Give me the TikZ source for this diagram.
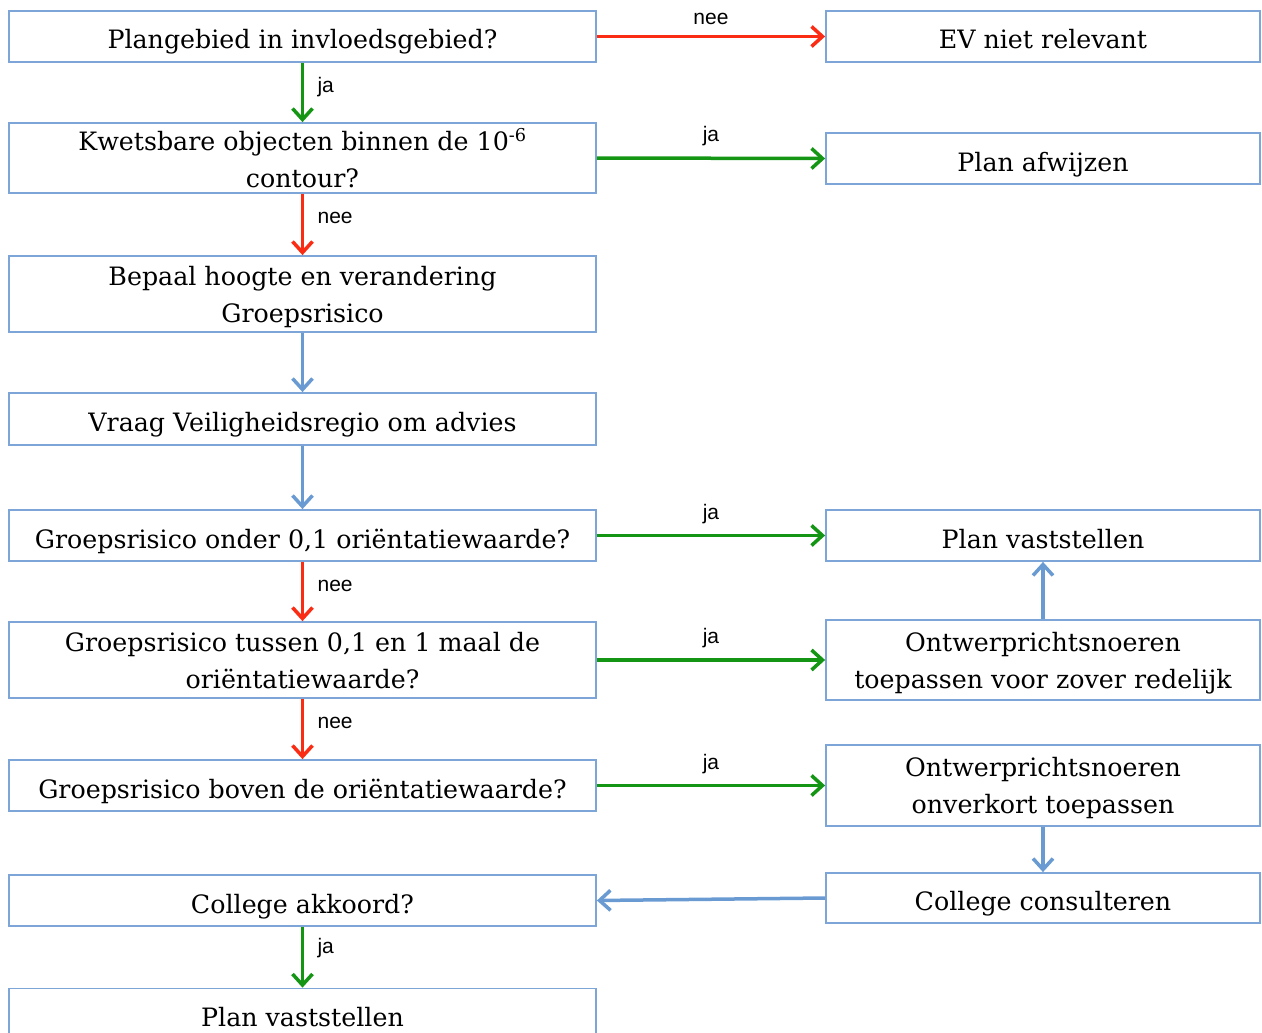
\documentclass[tikz,border=0pt]{standalone}
\usepackage{fontspec}
\setmainfont{DejaVu Serif}
\newfontfamily\lblfont{Liberation Sans}
\usepackage{tikz}
\usetikzlibrary{arrows.meta}

\definecolor{boxline}{RGB}{125,165,215}
\definecolor{neered}{RGB}{250,45,20}
\definecolor{jagreen}{RGB}{20,150,20}
\definecolor{flowblue}{RGB}{105,155,210}

\begin{document}
\begin{tikzpicture}[x=1pt,y=-1pt,
    box/.style={draw=boxline,line width=1.8pt,inner sep=0pt,align=center,
      text depth=0pt,execute at begin node={\rule{0pt}{25pt}},
      font=\fontsize{25.3}{37}\selectfont},
    lbox/.style={box,minimum width=587pt},
    rbox/.style={box,minimum width=434pt},
    conn/.style={line width=3.5pt,-{Straight Barb[length=11pt,width=20pt,line width=3.5pt]}},
    ja/.style={conn,draw=jagreen},
    nee/.style={conn,draw=neered},
    flow/.style={conn,draw=flowblue},
    lbl/.style={font=\lblfont\fontsize{21}{24}\selectfont,text=black}]

  \useasboundingbox (0,0) rectangle (1262,1033);

  % linker kolom
  \node (plan) at (302.5,36.5) [lbox,minimum height=51pt] {Plangebied in invloedsgebied?};
  \node (kwets) at (302.5,158) [lbox,minimum height=70pt] {Kwetsbare objecten binnen de 10\textsuperscript{-6}\\contour?};
  \node (bepaal) at (302.5,294) [lbox,minimum height=76pt] {Bepaal hoogte en verandering\\Groepsrisico};
  \node (vraag) at (302.5,419) [lbox,minimum height=52pt] {Vraag Veiligheidsregio om advies};
  \node (onder) at (302.5,535.5) [lbox,minimum height=51pt] {Groepsrisico onder 0,1 oriëntatiewaarde?};
  \node (tussen) at (302.5,660) [lbox,minimum height=76pt] {Groepsrisico tussen 0,1 en 1 maal de\\oriëntatiewaarde?};
  \node (boven) at (302.5,785.5) [lbox,minimum height=51pt] {Groepsrisico boven de oriëntatiewaarde?};
  \node (akkoord) at (302.5,900.5) [lbox,minimum height=51pt] {College akkoord?};
  \node (vast) at (302.5,1014) [lbox,minimum height=51pt] {Plan vaststellen};

  % rechter kolom
  \node (ev) at (1043,36.5) [rbox,minimum height=51pt] {EV niet relevant};
  \node (afwijzen) at (1043,158.5) [rbox,minimum height=51pt] {Plan afwijzen};
  \node (vastr) at (1043,535.5) [rbox,minimum height=51pt] {Plan vaststellen};
  \node (redelijk) at (1043,660) [rbox,minimum height=80pt] {Ontwerprichtsnoeren\\toepassen voor zover redelijk};
  \node (onverkort) at (1043,785.5) [rbox,minimum height=81pt] {Ontwerprichtsnoeren\\onverkort toepassen};
  \node (consult) at (1043,898) [rbox,minimum height=50pt] {College consulteren};

  % verticale pijlen
  \draw[ja] (plan) -- (kwets) node[lbl,pos=0.4,right=10pt] {ja};
  \draw[nee] (kwets) -- (bepaal) node[lbl,pos=0.4,right=10pt] {nee};
  \draw[flow] (bepaal) -- (vraag);
  \draw[flow] (vraag) -- (onder);
  \draw[nee] (onder) -- (tussen) node[lbl,pos=0.4,right=10pt] {nee};
  \draw[nee] (tussen) -- (boven) node[lbl,pos=0.4,right=10pt] {nee};
  \draw[ja] (akkoord) -- (vast) node[lbl,pos=0.35,right=10pt] {ja};
  \draw[flow] (redelijk) -- (vastr);
  \draw[flow] (onverkort) -- (consult);
  \draw[flow] (consult.west) -- (akkoord.east);

  % horizontale pijlen
  \draw[nee] (plan.east) -- (ev.west) node[lbl,midway,above=7pt] {nee};
  \foreach \a/\b in {kwets/afwijzen,onder/vastr,tussen/redelijk,boven/onverkort}
    \draw[ja] (\a.east) -- (\b.west) node[lbl,midway,above=7pt] {ja};

\end{tikzpicture}
\end{document}
